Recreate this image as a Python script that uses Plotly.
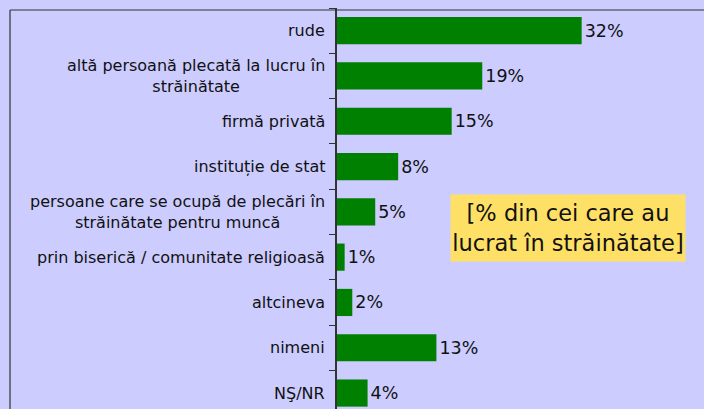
import plotly.graph_objects as go

# Survey answers: who helped find the job abroad
categories = [
    "rude",
    "altă persoană plecată la lucru în<br>străinătate",
    "firmă privată",
    "instituție de stat",
    "persoane care se ocupă de plecări în<br>străinătate pentru muncă",
    "prin biserică / comunitate religioasă",
    "altcineva",
    "nimeni",
    "NŞ/NR",
]
values = [32, 19, 15, 8, 5, 1, 2, 13, 4]
note_text = "[% din cei care au<br>lucrat în străinătate]"

W, H = 704, 409
AXIS_X = 337          # pixel position of the category axis
TOP = 8               # top of the plotting area, px
ROW = 45.3            # height of one category row, px
BG = "#CCCCFF"
BAR = "#008000"
INK = "#111111"
FONT = "DejaVu Sans"


def px_x(p):
    return p / W


def px_y(p):
    return 1 - p / H


fig = go.Figure(
    go.Bar(
        x=values,
        y=categories,
        orientation="h",
        width=0.6,
        marker=dict(color=BAR, line=dict(width=0)),
        text=[f"{v}%" for v in values],
        textposition="outside",
        textfont=dict(family=FONT, size=17.5, color=INK),
        constraintext="none",
        cliponaxis=False,
        hoverinfo="skip",
    )
)

# category labels, right-aligned against the axis with centred line wrapping
for cat in categories:
    fig.add_annotation(
        x=px_x(AXIS_X - 10), xref="paper",
        y=cat, yref="y",
        text=cat, showarrow=False,
        xanchor="right", yanchor="middle", align="center",
        font=dict(family=FONT, size=16, color=INK),
    )

# yellow note box
fig.add_annotation(
    x=px_x(567.5), xref="paper", y=px_y(228), yref="paper",
    text=note_text, showarrow=False,
    xanchor="center", yanchor="middle", align="center",
    width=234, height=66, borderpad=0,
    bgcolor="#FFE066",
    font=dict(family=FONT, size=22.5, color=INK),
)

# outer chart frame (top and left edges)
frame = dict(color="#333333", width=1.2)
fig.add_shape(type="line", xref="paper", yref="paper",
              x0=px_x(10), y0=px_y(10), x1=1, y1=px_y(10), line=frame)
fig.add_shape(type="line", xref="paper", yref="paper",
              x0=px_x(10), y0=px_y(10), x1=px_x(10), y1=0, line=frame)

n_rows_visible = (H - TOP) / ROW
fig.update_layout(
    width=W, height=H,
    margin=dict(l=0, r=0, t=0, b=0),
    paper_bgcolor=BG, plot_bgcolor=BG,
    showlegend=False,
    bargap=0.4,
    xaxis=dict(domain=[px_x(AXIS_X), 1], range=[0, 48], visible=False),
    yaxis=dict(
        domain=[0, px_y(TOP)],
        type="category",
        range=[-0.5 + n_rows_visible, -0.5],
        showline=True, linecolor="#333333", linewidth=1.5,
        ticks="outside", tickson="boundaries", ticklen=6,
        tickcolor="#333333", tickwidth=1.2,
        showticklabels=False, showgrid=False, zeroline=False,
    ),
)

fig.write_html("out.html")
